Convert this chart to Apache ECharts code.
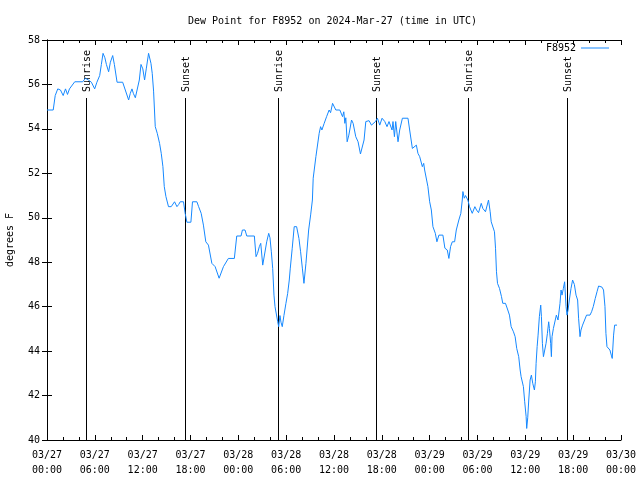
<!DOCTYPE html>
<html>
<head>
<meta charset="utf-8">
<script src="https://cdn.jsdelivr.net/npm/echarts@6/dist/echarts.min.js"></script>
<style>html,body{margin:0;padding:0;background:#fff}#c{width:640px;height:480px}</style>
</head>
<body>
<div id="c"></div>
<script>
// hours since 2024-03-27 00:00 UTC
const hours = [0,0.78,1.03,1.35,1.69,2.03,2.32,2.57,2.82,3.07,3.48,4.48,4.82,5.19,5.57,5.98,6.26,6.61,6.82,7.03,7.26,7.45,7.73,7.95,8.24,8.45,8.79,9.49,9.82,10.01,10.24,10.45,10.66,10.83,11.08,11.29,11.58,11.79,12.02,12.24,12.45,12.74,13.04,13.2,13.37,13.58,13.83,14.12,14.33,14.54,14.71,14.92,15.24,15.58,16.0,16.3,16.52,16.71,17.12,17.33,17.55,18.05,18.25,18.8,19.02,19.34,19.62,19.92,20.25,20.68,21.09,21.59,22.13,22.75,23.5,23.8,24.34,24.51,24.84,25.06,26.01,26.22,26.41,26.63,26.81,27.06,27.26,27.56,27.81,27.97,28.14,28.31,28.47,28.6,28.81,28.94,29.06,29.22,29.35,29.51,29.72,29.97,30.19,30.39,30.51,30.76,31.01,31.31,31.6,31.81,32.04,32.23,32.48,32.82,33.07,33.29,33.39,33.73,34.14,34.32,34.48,34.77,35.07,35.39,35.57,35.82,36.02,36.23,36.73,37.07,37.23,37.36,37.48,37.65,37.86,38.2,38.4,38.73,39.02,39.32,39.57,39.77,39.99,40.4,40.7,40.9,41.2,41.45,41.74,42.03,42.37,42.65,42.9,43.28,43.4,43.58,43.74,44.03,44.24,44.58,45.28,45.49,45.83,46.06,46.33,46.53,46.75,47.08,47.25,47.37,47.78,48.0,48.21,48.41,48.71,48.91,49.16,49.66,49.91,50.21,50.41,50.62,50.84,51.13,51.34,51.66,51.91,52.09,52.17,52.34,52.5,52.79,53.0,53.34,53.67,53.88,54.13,54.47,54.67,55.0,55.38,55.59,55.72,56.13,56.26,56.38,56.51,56.76,57.01,57.17,57.51,57.8,58.01,58.22,58.51,58.72,58.92,59.17,59.35,59.47,59.76,59.92,60.1,60.17,60.3,60.43,60.6,60.76,60.93,61.14,61.26,61.35,61.48,61.6,61.76,61.93,62.02,62.14,62.27,62.48,62.6,62.77,62.93,63.02,63.18,63.27,63.35,63.52,63.73,63.89,64.1,64.35,64.48,64.6,64.77,64.93,65.11,65.23,65.36,65.52,65.73,65.93,66.15,66.36,66.56,66.68,66.86,66.98,67.18,67.4,67.68,68.11,68.31,68.52,68.77,68.99,69.19,69.61,69.81,69.99,70.11,70.24,70.44,70.61,70.78,70.9,71.07,71.2,71.5];
const dewF = [54.85,54.85,55.5,55.8,55.75,55.5,55.8,55.55,55.8,55.8,56.12,56.12,56.28,56.2,56.1,55.8,56.1,56.4,56.9,57.4,57.2,56.9,56.57,57.0,57.3,56.9,56.1,56.1,55.75,55.8,55.3,55.6,55.8,55.6,55.4,55.4,56.2,56.9,56.7,56.2,56.7,57.4,56.95,56.5,55.7,54.1,53.8,53.35,52.9,52.3,51.4,50.95,50.5,50.5,50.72,50.5,50.6,50.72,50.72,50.2,49.8,49.8,50.72,50.72,50.5,50.2,49.67,48.92,48.77,47.95,47.8,47.28,47.8,48.17,48.17,49.18,49.18,49.45,49.45,49.18,49.18,48.25,48.4,48.7,48.85,47.87,47.87,48.92,49.3,49.1,48.47,47.72,46.52,46.0,46.0,45.32,45.1,45.6,45.3,45.1,45.6,46.15,46.6,47.2,47.7,48.63,49.6,49.6,49.07,48.47,47.7,47.05,47.95,49.45,50.13,50.8,51.78,52.75,53.8,54.1,53.95,54.25,54.55,54.85,54.73,55.15,55.15,54.85,54.85,54.55,54.77,54.25,54.5,53.42,53.72,54.4,54.25,53.65,53.42,52.87,52.87,53.5,54.33,54.37,54.17,54.1,54.33,54.48,54.17,54.48,54.33,54.1,54.33,53.95,54.33,53.65,54.33,53.42,53.95,54.48,54.48,53.95,53.12,53.2,53.27,52.9,52.75,52.3,52.45,52.15,51.4,50.72,50.35,49.6,49.3,48.92,49.22,49.22,48.63,48.55,48.17,48.7,48.92,48.92,49.45,49.9,50.2,50.8,51.18,50.88,51.0,50.8,50.5,50.2,50.5,50.35,50.23,50.65,50.42,50.27,50.8,50.27,49.82,49.37,48.63,47.57,47.05,46.82,46.45,46.15,46.15,45.85,45.62,45.1,44.87,44.65,44.12,43.75,43.15,42.85,42.4,41.72,41.05,40.52,41.0,41.8,42.7,42.92,42.55,42.25,42.62,43.45,44.2,44.72,45.55,46.07,45.55,44.35,43.75,43.75,44.35,44.8,45.32,45.02,44.35,43.75,44.65,45.02,45.02,45.62,45.4,46.15,46.75,46.52,46.82,47.12,46.0,45.62,45.85,46.3,46.82,47.2,47.0,46.52,46.3,45.48,44.65,44.95,45.17,45.1,45.62,45.62,45.77,46.0,46.37,46.67,46.93,46.88,46.75,46.0,44.8,44.2,44.2,44.05,43.82,43.67,44.72,45.17,45.17];
const sunHours = [4.86, 17.25, 28.94, 41.28, 52.84, 65.18];
const sunLabels = ["Sunrise", "Sunset", "Sunrise", "Sunset", "Sunrise", "Sunset"];
const yTicks = [40, 42, 44, 46, 48, 50, 52, 54, 56, 58];
const xTickHours = [0, 6, 12, 18, 24, 30, 36, 42, 48, 54, 60, 66, 72];

const FONT = 'DejaVu Sans Mono';
const chart = echarts.init(document.getElementById('c'));
function fmtX(v) {
  const day = 27 + Math.floor(v / 24);
  const hh = v % 24;
  return '03/' + day + '\n' + String(hh).padStart(2, '0') + ':00';
}
const axisLine = {show: true, lineStyle: {color: '#000', width: 1}};
chart.setOption({
  animation: false,
  title: {text: 'Dew Point for F8952 on 2024-Mar-27 (time in UTC)', left: 183, top: 11, padding: [5, 5],
    textStyle: {fontFamily: FONT, fontSize: 10, fontWeight: 'normal', color: '#000'}},
  legend: {right: 31, top: 43, align: 'right', itemWidth: 28, itemHeight: 1, padding: 0, icon: 'rect',
    textStyle: {fontFamily: FONT, fontSize: 10, color: '#000'}, data: ['F8952']},
  grid: {left: 47, right: 19, top: 40, bottom: 40, containLabel: false, outerBoundsMode: 'none'},
  xAxis: [{
    type: 'value', min: xTickHours[0], max: xTickHours[xTickHours.length - 1], interval: 6,
    axisLine: axisLine, splitLine: {show: false},
    axisTick: {show: true, inside: true, length: 5, lineStyle: {color: '#000'}},
    minorTick: {show: true, splitNumber: 3, length: 3, lineStyle: {color: '#000'}},
    axisLabel: {formatter: fmtX, fontFamily: FONT, fontSize: 10, color: '#000', lineHeight: 15, margin: 8}
  }, {
    type: 'value', position: 'top', min: 0, max: 72, interval: 6,
    axisLine: axisLine, splitLine: {show: false},
    axisTick: {show: true, inside: true, length: 5, lineStyle: {color: '#000'}},
    minorTick: {show: true, splitNumber: 3, length: 3, lineStyle: {color: '#000'}},
    axisLabel: {show: false}
  }],
  yAxis: [{
    type: 'value', min: yTicks[0], max: yTicks[yTicks.length - 1], interval: 2,
    name: 'degrees F', nameLocation: 'middle', nameGap: 32, nameRotate: 90,
    nameTextStyle: {fontFamily: FONT, fontSize: 10, color: '#000'},
    axisLine: axisLine, splitLine: {show: false},
    axisTick: {show: true, inside: true, length: 5, lineStyle: {color: '#000'}},
    axisLabel: {fontFamily: FONT, fontSize: 10, color: '#000', margin: 7}
  }, {
    type: 'value', position: 'right', min: 40, max: 58, interval: 2,
    axisLine: axisLine, splitLine: {show: false},
    axisTick: {show: true, inside: true, length: 5, lineStyle: {color: '#000'}},
    axisLabel: {show: false}
  }],
  series: [{
    name: 'F8952', type: 'line', showSymbol: false, symbol: 'none',
    lineStyle: {color: '#1588ff', width: 1}, itemStyle: {color: '#1588ff'},
    data: hours.map((h, i) => [h, dewF[i]])
  }, {
    type: 'custom', silent: true,
    data: sunHours.map((h, i) => [h, i]),
    renderItem: function (params, api) {
      const t = api.value(0);
      const idx = api.value(1);
      const bot = api.coord([t, 40]);
      const top = api.coord([t, 58]);
      return {type: 'group', children: [
        {type: 'line', shape: {x1: Math.round(bot[0]) + 0.5, y1: bot[1], x2: Math.round(bot[0]) + 0.5, y2: top[1] + 58},
          style: {stroke: '#000', lineWidth: 1}},
        {type: 'text', x: Math.round(bot[0]) + 1, y: top[1] + 52, rotation: Math.PI / 2,
          style: {text: sunLabels[idx], font: '10px "' + FONT + '"', fill: '#000', align: 'left', verticalAlign: 'middle'}}
      ]};
    }
  }]
});
</script>
</body>
</html>
